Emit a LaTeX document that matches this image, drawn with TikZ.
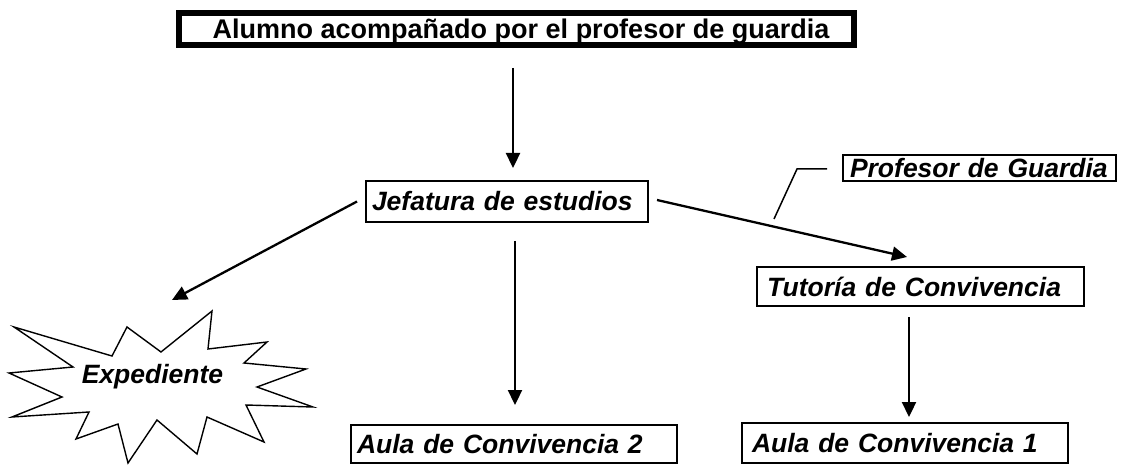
\documentclass[tikz,border=0pt]{standalone}
\usepackage{fontspec}
\setmainfont{Liberation Sans}
\usetikzlibrary{arrows.meta}
\newcommand{\bifont}{\fontsize{26.5}{30}\selectfont\bfseries\itshape}
\newcommand{\bnfont}{\fontsize{27}{30}\selectfont\bfseries}
\tikzset{
  boxnode/.style={draw, line width=1.6pt, inner ysep=0pt, outer sep=0pt, align=left, anchor=north west, font=\bifont},
  arr/.style={line width=2.3pt, -{Triangle[length=15pt,width=14pt]}},
  thinline/.style={line width=1.5pt}
}
\begin{document}
\begin{tikzpicture}[x=1pt,y=-1pt]
\useasboundingbox (0,0) rectangle (1122,465);
% top box
\node[draw, line width=6pt, outer sep=0pt, inner ysep=0pt, inner xsep=0pt, minimum width=675pt, text height=25.65pt, text depth=6.35pt, font=\bnfont] (top) at (516.5,29) {\hspace*{9pt}Alumno acompañado por el profesor de guardia};
% boxes
\node[boxnode, inner xsep=6pt, text width=270pt, text height=30pt, text depth=11pt] (jef) at (366,181) {\mbox{Jefatura de estudios}};
\node[boxnode, inner xsep=7pt, text width=259pt, text height=22.5pt, text depth=3.5pt] (prof) at (843,155) {\mbox{Profesor de Guardia}};
\node[boxnode, inner xsep=10pt, text width=307pt, text height=29pt, text depth=10pt] (tut) at (757,267) {\mbox{Tutoría de Convivencia}};
\node[boxnode, inner xsep=6pt, text width=314pt, text height=28.5pt, text depth=9.5pt] (aula2) at (351,425) {\mbox{Aula de Convivencia 2}};
\node[boxnode, inner xsep=10pt, text width=306pt, text height=29.5pt, text depth=10.5pt] (aula1) at (742,423) {\mbox{Aula de Convivencia 1}};
% star
\draw[line width=1.4pt, fill=white, line join=miter]
  (14,327) -- (73,367) -- (9,373) -- (62,397) -- (12,417) -- (89,412) -- (76,439)
  -- (118,424) -- (128,463) -- (157,420) -- (197,454) -- (207,417) -- (264,442)
  -- (246,405) -- (313,407) -- (257,387) -- (306,369) -- (244,363) -- (267,342)
  -- (208,349) -- (212,311) -- (161,352) -- (127,327) -- (112,356) -- cycle;
\node[font=\bifont, inner sep=0pt, anchor=base] (exp) at (152.5,383.5) {Expediente};
% arrows
\draw[arr] ([xshift=-3.5pt,yshift=-23pt]top.south) -- ([xshift=6pt,yshift=13pt]jef.north);
\draw[arr] ([xshift=-9pt]jef.west) -- ([xshift=19.5pt,yshift=83.5pt]exp.base);
\draw[arr] ([xshift=9pt,yshift=1.5pt]jef.east) -- ([xshift=-13.5pt,yshift=10pt]tut.north);
\draw[arr] ([xshift=8pt,yshift=-19pt]jef.south) -- ([xshift=1pt,yshift=20pt]aula2.north);
\draw[arr] ([xshift=-11.5pt,yshift=-11pt]tut.south) -- ([xshift=4pt,yshift=6pt]aula1.north);
% callout
\coordinate (c1) at (797,169);
\coordinate (c2) at (774,219);
\draw[thinline] ([xshift=-16pt,yshift=-1pt]prof.west) -- (c1) -- (c2);
\end{tikzpicture}
\end{document}
